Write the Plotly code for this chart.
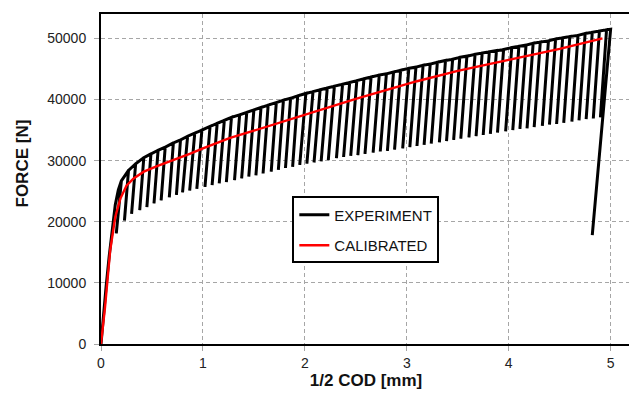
import plotly.graph_objects as go

# ---- Data ----
# Experiment: initial loading branch
init_x = [0.0, 0.02, 0.05, 0.08, 0.11, 0.14, 0.17]
init_f = [0, 4200, 9400, 14300, 18500, 22800, 25200]

# Experiment: unloading/reloading cycles (peak on the envelope, valley at unload end)
peak_x = [0.20, 0.27, 0.34, 0.42, 0.49, 0.56, 0.63, 0.71, 0.78, 0.85,
          0.92, 0.99, 1.07, 1.14, 1.21, 1.28, 1.36, 1.43, 1.50, 1.57,
          1.64, 1.72, 1.79, 1.86, 1.93, 2.01, 2.08, 2.15, 2.22, 2.29,
          2.37, 2.44, 2.51, 2.58, 2.65, 2.73, 2.80, 2.87, 2.94, 3.02,
          3.09, 3.16, 3.23, 3.30, 3.38, 3.45, 3.52, 3.59, 3.67, 3.74,
          3.81, 3.88, 3.95, 4.03, 4.10, 4.17, 4.24, 4.31, 4.39, 4.46,
          4.53, 4.60, 4.68, 4.75, 4.82, 4.89, 4.96]
peak_f = [26700, 28400, 29500, 30500, 31100, 31700, 32200, 32900, 33400, 34000,
          34500, 35000, 35600, 36100, 36600, 37100, 37500, 37900, 38300, 38700,
          39100, 39500, 39900, 40200, 40600, 41000, 41300, 41600, 41900, 42200,
          42500, 42800, 43100, 43400, 43700, 44000, 44200, 44500, 44800, 45100,
          45300, 45600, 45800, 46100, 46400, 46600, 46900, 47100, 47400, 47600,
          47800, 48000, 48200, 48500, 48700, 48900, 49200, 49400, 49600, 49900,
          50100, 50300, 50500, 50800, 51000, 51200, 51400]
valley_x = [0.15, 0.23, 0.30, 0.38, 0.45, 0.52, 0.59, 0.67, 0.74, 0.80,
            0.87, 0.94, 1.02, 1.09, 1.16, 1.23, 1.31, 1.38, 1.45, 1.52,
            1.59, 1.67, 1.74, 1.81, 1.88, 1.95, 2.02, 2.09, 2.16, 2.23,
            2.31, 2.38, 2.45, 2.52, 2.59, 2.67, 2.74, 2.81, 2.88, 2.96,
            3.03, 3.10, 3.17, 3.24, 3.32, 3.39, 3.46, 3.53, 3.61, 3.68,
            3.75, 3.82, 3.89, 3.97, 4.04, 4.11, 4.18, 4.25, 4.33, 4.40,
            4.47, 4.54, 4.62, 4.69, 4.76, 4.83, 4.90]
valley_f = [18100, 20200, 21300, 21900, 22400, 23000, 23500, 24000, 24400, 24800,
            25100, 25400, 25700, 26000, 26300, 26500, 26800, 27100, 27400, 27600,
            27900, 28200, 28500, 28800, 29000, 29300, 29500, 29700, 29900, 30100,
            30400, 30600, 30800, 30900, 31100, 31300, 31500, 31600, 31800, 32000,
            32200, 32400, 32600, 32800, 33000, 33200, 33400, 33600, 33800, 34000,
            34200, 34400, 34600, 34800, 35000, 35200, 35300, 35500, 35700, 35900,
            36000, 36200, 36400, 36600, 36800, 36900, 37100]

# Experiment: final peak and final unloading
final_x = [5.00, 4.82]
final_f = [51500, 17800]

# Calibrated model curve
cal_x = [0.0, 0.04, 0.09, 0.14, 0.19, 0.25, 0.32, 0.42, 0.55, 0.70, 0.87,
         1.00, 1.13, 1.26, 1.50, 2.00, 2.50, 3.10, 3.50, 4.00, 4.50, 4.92]
cal_f = [0, 6100, 15300, 20800, 23800, 25900, 27100, 28200, 29100, 30000, 31100,
         32000, 32900, 33700, 34900, 37500, 40100, 43000, 44700, 46500, 48300, 50000]

x_ticks = [0, 1, 2, 3, 4, 5]
y_ticks = [0, 10000, 20000, 30000, 40000, 50000]

# ---- Build experiment path ----
exp_x = list(init_x)
exp_f = list(init_f)
for px, pf, vx, vf in zip(peak_x, peak_f, valley_x, valley_f):
    exp_x += [px, vx, px]
    exp_f += [pf, vf, pf]
exp_x += final_x
exp_f += final_f

FONT = "Arial, 'Liberation Sans', sans-serif"

fig = go.Figure()
fig.add_trace(go.Scatter(x=exp_x, y=exp_f, mode="lines", name="EXPERIMENT",
                         line=dict(color="black", width=3), legendgroup="a"))
fig.add_trace(go.Scatter(x=cal_x, y=cal_f, mode="lines", name="CALIBRATED",
                         line=dict(color="#ff0000", width=2.4), legendgroup="b"))

axis_common = dict(
    showgrid=True, gridcolor="#a6a6a6", griddash="4px,3px", gridwidth=1,
    zeroline=False, showline=True, mirror=True, linecolor="black", linewidth=2,
    ticks="outside", ticklen=5, tickcolor="#a6a6a6", tickwidth=1,
    tickfont=dict(family=FONT, size=14, color="#222"),
)

# the page body has an 8px margin, so the figure is sized to fit in 637x394 after that offset
fig.update_layout(
    width=629, height=386,
    margin=dict(l=93, r=4, t=5, b=50),
    paper_bgcolor="white", plot_bgcolor="white",
    font=dict(family=FONT, color="#222"),
    xaxis=dict(range=[0, 5.2], tickvals=x_ticks, ticktext=[str(v) for v in x_ticks],
               title=dict(text="<b>1/2 COD [mm]</b>", font=dict(family=FONT, size=17, color="#111"), standoff=4),
               **axis_common),
    yaxis=dict(range=[0, 54000], tickvals=y_ticks, ticktext=[str(v) for v in y_ticks],
               ticklabelstandoff=5,
               **axis_common),
    annotations=[dict(text="<b>FORCE [N]</b>", xref="paper", yref="paper",
                      x=0, y=0.547, xshift=-79, xanchor="center", yanchor="middle",
                      textangle=-90, showarrow=False,
                      font=dict(family=FONT, size=17, color="#111"))],
    showlegend=True,
    legend=dict(x=0.361, y=0.447, xanchor="left", yanchor="top",
                bgcolor="white", bordercolor="black", borderwidth=2,
                font=dict(family=FONT, size=15, color="#111"),
                tracegroupgap=8, itemwidth=30),
)

fig.write_html("out.html")
